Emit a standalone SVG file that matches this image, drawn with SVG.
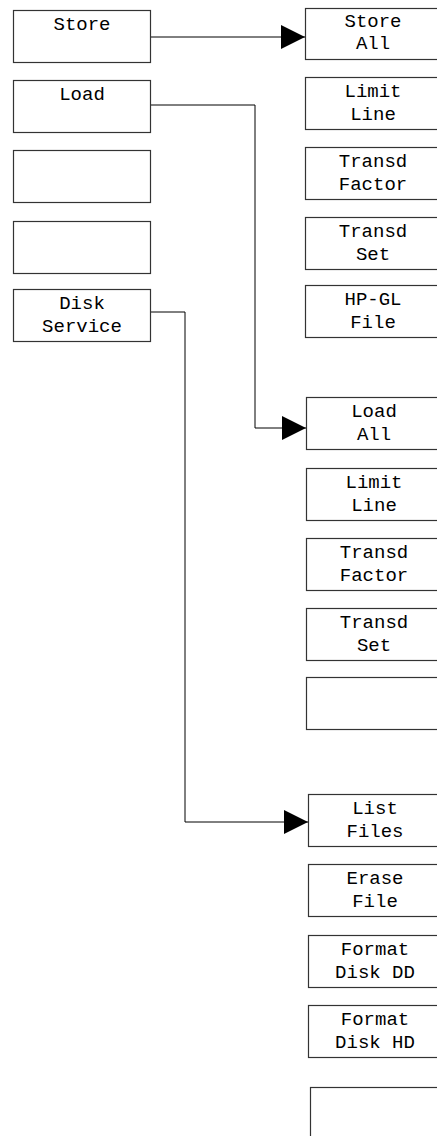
<svg xmlns="http://www.w3.org/2000/svg" width="437" height="1136" viewBox="0 0 437 1136">
<style>
rect.b{fill:#fff;stroke:#333;stroke-width:1.2}
text{font-family:"Liberation Mono","Courier New",monospace;font-size:19px;fill:#000;text-anchor:middle}
.c{fill:none;stroke:#000;stroke-width:1}
</style>
<defs>
<marker id="ah" markerWidth="24" markerHeight="24" refX="24" refY="12" orient="auto" markerUnits="userSpaceOnUse">
<path d="M0,0 L24,12 L0,24 Z" fill="#000"/>
</marker>
</defs>
<rect width="437" height="1136" fill="#fff"/>
<g id="connectors">
<path class="c" d="M150,37 H305" marker-end="url(#ah)"/>
<path class="c" d="M150,105 H255 V428 H306" marker-end="url(#ah)"/>
<path class="c" d="M150,312 H185 V822 H308" marker-end="url(#ah)"/>
</g>
<g id="n-store"><rect class="b" x="13.5" y="10.5" width="137" height="52"/><text x="82" y="30">Store</text></g>
<g id="n-load"><rect class="b" x="13.5" y="80.5" width="137" height="52"/><text x="82" y="100">Load</text></g>
<g id="n-empty1"><rect class="b" x="13.5" y="150.5" width="137" height="52"/></g>
<g id="n-empty2"><rect class="b" x="13.5" y="221.5" width="137" height="52"/></g>
<g id="n-disk"><rect class="b" x="13.5" y="289.5" width="137" height="52"/><text x="82" y="309">Disk</text><text x="82" y="332">Service</text></g>

<g id="n-storeall"><rect class="b" x="305.5" y="8.5" width="137" height="51"/><text x="373" y="27">Store</text><text x="373" y="49">All</text></g>
<g id="n-limit1"><rect class="b" x="305.5" y="77.5" width="137" height="52"/><text x="373" y="97">Limit</text><text x="373" y="120">Line</text></g>
<g id="n-tf1"><rect class="b" x="305.5" y="147.5" width="137" height="52"/><text x="373" y="167">Transd</text><text x="373" y="190">Factor</text></g>
<g id="n-ts1"><rect class="b" x="305.5" y="217.5" width="137" height="52"/><text x="373" y="237">Transd</text><text x="373" y="260">Set</text></g>
<g id="n-hpgl"><rect class="b" x="305.5" y="285.5" width="137" height="52"/><text x="373" y="305">HP-GL</text><text x="373" y="328">File</text></g>

<g id="n-loadall"><rect class="b" x="306.5" y="397.5" width="137" height="52"/><text x="374" y="417">Load</text><text x="374" y="440">All</text></g>
<g id="n-limit2"><rect class="b" x="306.5" y="468.5" width="137" height="52"/><text x="374" y="488">Limit</text><text x="374" y="511">Line</text></g>
<g id="n-tf2"><rect class="b" x="306.5" y="538.5" width="137" height="52"/><text x="374" y="558">Transd</text><text x="374" y="581">Factor</text></g>
<g id="n-ts2"><rect class="b" x="306.5" y="608.5" width="137" height="52"/><text x="374" y="628">Transd</text><text x="374" y="651">Set</text></g>
<g id="n-empty3"><rect class="b" x="306.5" y="677.5" width="137" height="52"/></g>

<g id="n-list"><rect class="b" x="308.5" y="794.5" width="137" height="52"/><text x="375" y="814">List</text><text x="375" y="837">Files</text></g>
<g id="n-erase"><rect class="b" x="308.5" y="864.5" width="137" height="52"/><text x="375" y="884">Erase</text><text x="375" y="907">File</text></g>
<g id="n-fdd"><rect class="b" x="308.5" y="935.5" width="137" height="52"/><text x="375" y="955">Format</text><text x="375" y="978">Disk DD</text></g>
<g id="n-fhd"><rect class="b" x="308.5" y="1005.5" width="137" height="52"/><text x="375" y="1025">Format</text><text x="375" y="1048">Disk HD</text></g>
<g id="n-empty4"><rect class="b" x="310.5" y="1087.5" width="137" height="60"/></g>
</svg>
